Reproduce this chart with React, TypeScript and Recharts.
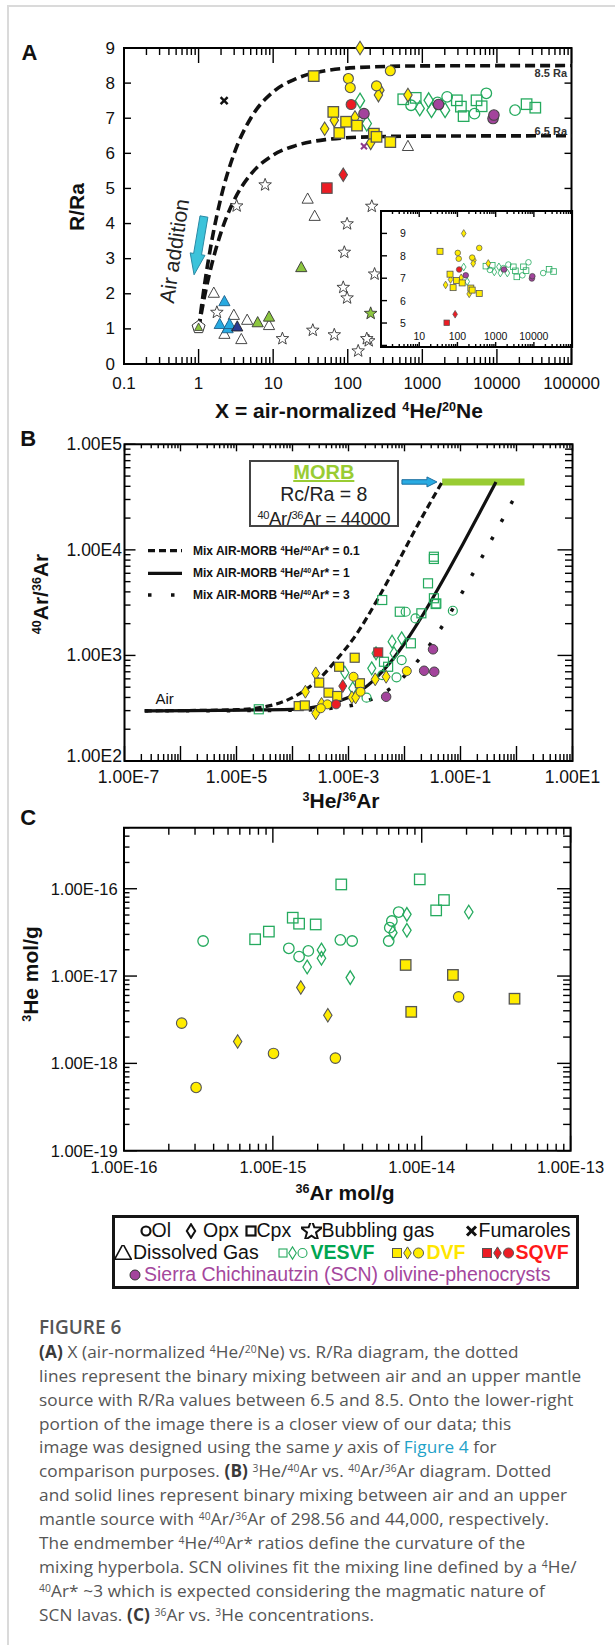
import React from "react";
import {
  ComposedChart,
  Scatter,
  Line,
  XAxis,
  YAxis,
  ReferenceArea,
  ReferenceLine,
} from "recharts";

type Pt = { x: number; y: number };
const pts = (rows: number[][]): Pt[] => rows.map(([x, y]) => ({ x, y }));

// ---------- (A) X = air-normalized 4He/20Ne vs R/Ra ----------
const aXMajors = [0.1, 1, 10, 100, 1000, 10000, 100000];
const aXLabels = ["0.1", "1", "10", "100", "1000", "10000", "100000"];
const aYMajors = [0, 1, 2, 3, 4, 5, 6, 7, 8, 9];
const aYLabels = ["0", "1", "2", "3", "4", "5", "6", "7", "8", "9"];
const insetXMajors = [1, 10, 100, 1000, 10000, 100000];
const insetXLabels = ["", "10", "100", "1000", "10000", ""];
const insetYMajors = [4, 5, 6, 7, 8, 9];
const insetYLabels = ["", "5", "6", "7", "8", "9"];

const aMix85 = pts([[1, 1], [1.2, 2.25], [1.5, 3.5], [2, 4.75], [3, 6.0], [5, 7.0], [10, 7.75], [20, 8.12], [50, 8.35], [200, 8.46], [1000, 8.49], [100000, 8.5]]);
const aMix65 = pts([[1, 1], [1.2, 1.92], [1.5, 2.83], [2, 3.75], [3, 4.67], [5, 5.4], [10, 5.95], [20, 6.22], [50, 6.39], [200, 6.47], [1000, 6.49], [100000, 6.5]]);

const aYellowSq = pts([[35, 8.2], [64, 7.18], [95, 6.9], [133, 6.79], [77, 6.58], [224, 6.56], [243, 6.47], [372, 6.32]]);
const aYellowCi = pts([[102, 8.13], [108, 7.87], [243, 7.92], [372, 8.35]]);
const aYellowDi = pts([[146, 9.0], [270, 7.8], [258, 7.66], [49, 6.7], [66, 6.94], [125, 7.02], [203, 6.3], [641, 7.66]]);
const aRedSq = pts([[52.5, 5.01]]);
const aRedDi = pts([[87, 5.39]]);
const aRedCi = pts([[111, 7.39]]);
const aPurple = pts([[165, 7.13], [1650, 7.39], [8870, 6.99], [9120, 7.09]]);
const aGreenSq = pts([[555, 7.54], [815, 7.58], [2900, 7.51], [3290, 7.33], [3575, 7.06], [5330, 7.51], [6240, 7.34], [25000, 7.4], [32700, 7.3]]);
const aGreenCi = pts([[706, 7.37], [2150, 7.61], [7210, 7.71], [5000, 7.13], [17500, 7.23], [1600, 7.45]]);
const aGreenDi = pts([[146, 7.5], [180, 6.85], [923, 7.28], [1216, 7.51], [1327, 7.23], [2020, 7.23]]);
const aStars = pts([[7.8, 5.1], [3.24, 4.5], [210, 4.49], [98, 3.99], [90, 3.18], [229, 2.56], [87, 2.18], [98, 1.88], [1.76, 1.47], [13.3, 0.72], [34, 0.96], [66, 0.83], [191, 0.66], [180, 0.72], [138, 0.37]]);
const aGreenStar = pts([[203, 1.44]]);
const aOpenTri = pts([[29, 4.7], [36, 4.21], [641, 6.2], [1.6, 2.02], [2.97, 1.39], [2.22, 0.85], [3.74, 0.7], [4.48, 1.25], [8.8, 1.1]]);
const aGreenTri = pts([[23.8, 2.75], [6.2, 1.18], [8.8, 1.34]]);
const aBlueTri = pts([[2.22, 1.78], [1.92, 1.13], [2.45, 1.01], [2.6, 1.13]]);
const aNavyTri = pts([[3.3, 1.06]]);
const aFumarole = pts([[2.2, 7.5]]);
const aPurpleX = pts([[165, 6.2]]);
const aAir = pts([[1, 1.05]]);
const aArrow = pts([[1.18, 4.2], [0.87, 2.54]]);

// ---------- (B) 3He/36Ar vs 40Ar/36Ar ----------
const bXMajors = [1e-7, 1e-6, 1e-5, 1e-4, 1e-3, 1e-2, 1e-1, 1, 10];
const bXLabels = ["1.00E-7", "", "1.00E-5", "", "1.00E-3", "", "1.00E-1", "", "1.00E1"];
const bYMajors = [100, 1000, 10000, 100000];
const bYLabels = ["1.00E2", "1.00E3", "1.00E4", "1.00E5"];

const bMix01 = pts([[2.3e-7, 298.6], [1e-5, 306], [5e-5, 345], [1.2e-4, 420], [3e-4, 600], [6e-4, 900], [1.4e-3, 1600], [3.2e-3, 3300], [7e-3, 7000], [1.6e-2, 16000], [4.7e-2, 44000]]);
const bMix1 = pts([[2.3e-7, 298.6], [1e-4, 309], [1e-3, 400], [3e-3, 600], [6e-3, 900], [1.1e-2, 1400], [2e-2, 2300], [3e-2, 3300], [6e-2, 6300], [0.11, 11300], [0.22, 22500], [0.43, 44000]]);
const bMix3 = pts([[2.3e-7, 298.6], [1e-4, 302], [1e-3, 332], [3e-3, 400], [6e-3, 500], [1e-2, 640], [2e-2, 980], [4e-2, 1650], [0.1, 3700], [0.2, 7100], [0.4, 13900], [0.88, 30000]]);
const bMorb = pts([[0.047, 44000], [1.39, 44000]]);
const bArrow = pts([[0.009, 44000], [0.038, 44000]]);

const bYellowSq = pts([[1.29e-3, 951], [6.8e-4, 781], [3e-4, 552], [4.4e-4, 444], [6.3e-4, 413], [1.6e-3, 545], [1.29e-4, 331], [1.66e-4, 336]]);
const bYellowCi = pts([[1.23e-3, 628], [4.2e-4, 344], [3.2e-4, 316], [1.64e-3, 453], [1.1e-2, 711]]);
const bYellowDi = pts([[2.6e-4, 676], [1.7e-4, 453], [3.3e-4, 347], [2.6e-4, 283], [1.15e-3, 401], [1.34e-3, 400], [3e-3, 594], [4.7e-3, 628]]);
const bRedSq = pts([[3.4e-3, 1070]]);
const bRedDi = pts([[7.9e-4, 513]]);
const bRedCi = pts([[6e-4, 344]]);
const bPurple = pts([[0.0323, 1143], [0.0224, 716], [0.034, 701], [4.7e-3, 406]]);
const bGreenSq = pts([[0.0335, 8610], [0.0335, 8200], [0.0263, 4820], [0.0335, 3480], [0.037, 3110], [0.004, 3350], [0.00824, 2594], [0.02, 2507], [0.036, 3070], [0.013, 1303], [0.0051, 781], [0.0043, 871], [2.5e-5, 309]]);
const bGreenCi = pts([[0.0105, 2594], [0.073, 2650], [0.0157, 2244], [0.0089, 904], [0.0072, 621], [0.0021, 398], [0.004, 652]]);
const bGreenDi = pts([[0.006, 1350], [0.0089, 1452], [0.0065, 1048], [0.0026, 755], [8.6e-4, 686], [1.19e-3, 488], [3.1e-3, 1048]]);

// ---------- (C) 36Ar vs 3He concentrations ----------
const cXMajors = [1e-16, 1e-15, 1e-14, 1e-13];
const cXLabels = ["1.00E-16", "1.00E-15", "1.00E-14", "1.00E-13"];
const cYMajors = [1e-19, 1e-18, 1e-17, 1e-16];
const cYLabels = ["1.00E-19", "1.00E-18", "1.00E-17", "1.00E-16"];

const cGreenCi = pts([[3.4e-16, 2.52e-17], [1.28e-15, 2.08e-17], [1.5e-15, 1.67e-17], [1.73e-15, 1.94e-17], [2.84e-15, 2.59e-17], [3.41e-15, 2.52e-17], [6.0e-15, 2.52e-17], [6.1e-15, 3.58e-17], [6.3e-15, 4.27e-17], [7.0e-15, 5.41e-17]]);
const cGreenSq = pts([[7.6e-16, 2.64e-17], [9.4e-16, 3.23e-17], [1.36e-15, 4.66e-17], [1.5e-15, 3.98e-17], [1.94e-15, 3.9e-17], [2.88e-15, 1.12e-16], [9.7e-15, 1.28e-16], [1.25e-14, 5.65e-17], [1.41e-14, 7.42e-17]]);
const cGreenDi = pts([[1.7e-15, 1.27e-17], [2.12e-15, 1.99e-17], [2.12e-15, 1.6e-17], [3.31e-15, 9.6e-18], [6.4e-15, 3.14e-17], [7.95e-15, 5.09e-17], [7.95e-15, 3.34e-17], [2.07e-14, 5.41e-17]]);
const cYellowDi = pts([[1.54e-15, 7.4e-18], [5.8e-16, 1.78e-18], [2.34e-15, 3.56e-18]]);
const cYellowSq = pts([[7.8e-15, 1.34e-17], [1.62e-14, 1.03e-17], [4.2e-14, 5.5e-18], [8.5e-15, 3.89e-18]]);
const cYellowCi = pts([[1.77e-14, 5.78e-18], [2.44e-16, 2.89e-18], [3.05e-16, 5.3e-19], [1.01e-15, 1.3e-18], [2.63e-15, 1.15e-18]]);

// ---------- styling ----------
const FONT = "Arial, 'Liberation Sans', Helvetica, sans-serif";
const YEL = "#ffec00";
const YEL_S = "#555";
const GRN = "#25aa5e";
const RED = "#ec1c24";
const PUR = "#a3449c";
const LGRN = "#8cc63f";
const BLUE = "#27aae1";
const NAVY = "#2b3990";

function logTicks(lo: number, hi: number): number[] {
  const out: number[] = [];
  const e0 = Math.floor(Math.log10(lo) + 1e-9);
  const e1 = Math.ceil(Math.log10(hi) - 1e-9);
  for (let e = e0; e <= e1; e++) {
    for (let m = 1; m <= 9; m++) {
      const v = +(m * Math.pow(10, e)).toPrecision(3);
      if (v >= lo * 0.999999 && v <= hi * 1.000001) out.push(v);
    }
  }
  return out;
}

type Kind = "circle" | "square" | "diamond" | "triangle" | "star" | "cross" | "air";

function Marker({ kind, cx, cy, s, fill, stroke, sw }: { kind: Kind; cx: number; cy: number; s: number; fill: string; stroke: string; sw: number }) {
  if (cx == null || cy == null || isNaN(cx) || isNaN(cy)) return null;
  const h = s / 2;
  const common = { fill, stroke, strokeWidth: sw };
  switch (kind) {
    case "circle":
      return <circle cx={cx} cy={cy} r={h} {...common} />;
    case "square":
      return <rect x={cx - h} y={cy - h} width={s} height={s} {...common} />;
    case "diamond": {
      const w = s * 0.42;
      const t = s * 0.68;
      return <polygon points={`${cx},${cy - t} ${cx + w},${cy} ${cx},${cy + t} ${cx - w},${cy}`} {...common} />;
    }
    case "triangle":
      return <polygon points={`${cx},${cy - s * 0.6} ${cx + s * 0.56},${cy + s * 0.42} ${cx - s * 0.56},${cy + s * 0.42}`} {...common} />;
    case "star": {
      const p: string[] = [];
      for (let i = 0; i < 10; i++) {
        const r = i % 2 === 0 ? s * 0.6 : s * 0.25;
        const a = -Math.PI / 2 + (i * Math.PI) / 5;
        p.push(`${cx + r * Math.cos(a)},${cy + r * Math.sin(a)}`);
      }
      return <polygon points={p.join(" ")} {...common} strokeLinejoin="miter" />;
    }
    case "cross":
      return (
        <g stroke={stroke} strokeWidth={sw} strokeLinecap="butt">
          <line x1={cx - h} y1={cy - h} x2={cx + h} y2={cy + h} />
          <line x1={cx - h} y1={cy + h} x2={cx + h} y2={cy - h} />
        </g>
      );
    case "air": {
      const p: string[] = [];
      for (let i = 0; i < 5; i++) {
        const a = -Math.PI / 2 + (i * 2 * Math.PI) / 5;
        p.push(`${cx + s * 0.62 * Math.cos(a)},${cy + s * 0.62 * Math.sin(a)}`);
      }
      return (
        <g>
          <polygon points={p.join(" ")} fill="#fff" stroke="#333" strokeWidth={1} />
          <polygon points={`${cx},${cy - s * 0.38} ${cx + s * 0.36},${cy + s * 0.3} ${cx - s * 0.36},${cy + s * 0.3}`} fill={fill} stroke="#333" strokeWidth={0.8} />
        </g>
      );
    }
  }
  return null;
}

const mk = (kind: Kind, s: number, fill: string, stroke: string, sw = 1) => (p: any) => (
  <Marker kind={kind} cx={p.cx} cy={p.cy} s={s} fill={fill} stroke={stroke} sw={sw} />
);

type Deco = {
  majors: number[];
  labels: string[];
  len: [number, number];
  opp: [number, number];
  span: number;
  off: number;
  font: number;
  anchor?: "start" | "middle" | "end";
  nudge?: number[];
};

const majorIndex = (v: number, majors: number[]) =>
  majors.findIndex((m) => (m === 0 ? v === 0 : Math.abs(v / m - 1) < 1e-6));

const bottomTick = (d: Deco) => (p: any) => {
  const { x, y } = p;
  const i = majorIndex(p.payload?.value, d.majors);
  const k = i >= 0 ? 0 : 1;
  const top = y - d.span;
  return (
    <g>
      {d.len[k] > 0 && <line x1={x} x2={x} y1={y} y2={y - d.len[k]} stroke="#000" strokeWidth={1.4} />}
      {d.opp[k] > 0 && <line x1={x} x2={x} y1={top} y2={top + d.opp[k]} stroke="#000" strokeWidth={1.4} />}
      {i >= 0 && d.labels[i] ? (
        <text x={x + ((d.nudge && d.nudge[i]) || 0)} y={y + d.off} textAnchor="middle" dominantBaseline="central" fontSize={d.font} fontFamily={FONT} fill="#111">
          {d.labels[i]}
        </text>
      ) : null}
    </g>
  );
};

const leftTick = (d: Deco) => (p: any) => {
  const { x, y } = p;
  const i = majorIndex(p.payload?.value, d.majors);
  const k = i >= 0 ? 0 : 1;
  const right = x + d.span;
  return (
    <g>
      {d.len[k] > 0 && <line x1={x} x2={x + d.len[k]} y1={y} y2={y} stroke="#000" strokeWidth={1.4} />}
      {d.opp[k] > 0 && <line x1={right} x2={right - d.opp[k]} y1={y} y2={y} stroke="#000" strokeWidth={1.4} />}
      {i >= 0 && d.labels[i] ? (
        <text x={x + d.off} y={y + ((d.nudge && d.nudge[i]) || 0)} textAnchor={d.anchor || "end"} dominantBaseline="central" fontSize={d.font} fontFamily={FONT} fill="#111">
          {d.labels[i]}
        </text>
      ) : null}
    </g>
  );
};

const arrowShape = (fill: string, stroke: string, shaft: number, head: number, headLen: number) => (p: any) => {
  const { x1, y1, x2, y2 } = p;
  const dx = x2 - x1;
  const dy = y2 - y1;
  const L = Math.hypot(dx, dy) || 1;
  const ux = dx / L;
  const uy = dy / L;
  const nx = -uy;
  const ny = ux;
  const bx = x2 - ux * headLen;
  const by = y2 - uy * headLen;
  const q = [
    [x1 + (nx * shaft) / 2, y1 + (ny * shaft) / 2],
    [bx + (nx * shaft) / 2, by + (ny * shaft) / 2],
    [bx + (nx * head) / 2, by + (ny * head) / 2],
    [x2, y2],
    [bx - (nx * head) / 2, by - (ny * head) / 2],
    [bx - (nx * shaft) / 2, by - (ny * shaft) / 2],
    [x1 - (nx * shaft) / 2, y1 - (ny * shaft) / 2],
  ];
  return <polygon points={q.map((c) => c.join(",")).join(" ")} fill={fill} stroke={stroke} strokeWidth={1} />;
};

const Sup = ({ children }: { children: React.ReactNode }) => (
  <span style={{ fontSize: "0.6em", verticalAlign: "0.55em", lineHeight: 0 }}>{children}</span>
);

const centered = (cx: number, cy: number, extra: React.CSSProperties = {}): React.CSSProperties => ({
  position: "absolute",
  left: cx,
  top: cy,
  transform: "translate(-50%, -50%)",
  whiteSpace: "nowrap",
  lineHeight: 1,
  ...extra,
});

const rotated = (cx: number, cy: number, deg: number, extra: React.CSSProperties = {}): React.CSSProperties => ({
  position: "absolute",
  left: cx,
  top: cy,
  transform: `translate(-50%, -50%) rotate(${deg}deg)`,
  whiteSpace: "nowrap",
  lineHeight: 1,
  ...extra,
});

const titleStyle: React.CSSProperties = { fontFamily: FONT, fontWeight: 700, fontSize: 21, color: "#111" };

const noAnim = { isAnimationActive: false as const, legendType: "none" as const };

// axes get 1px of room (an axis with zero size is not drawn); margins are 1px smaller to keep the plot box
function PanelA() {
  return (
    <ComposedChart width={615} height={396} margin={{ top: 48, right: 43.5, bottom: 31, left: 123 }}>
      <XAxis dataKey="x" type="number" scale="log" domain={[0.1, 100000]} ticks={logTicks(0.1, 100000)} interval={0}
        height={1} tickSize={0} tickMargin={0} axisLine={false} tickLine={false}
        tick={bottomTick({ majors: aXMajors, labels: aXLabels, len: [15, 7], opp: [15, 7], span: 316, off: 19, font: 17 })} />
      <YAxis dataKey="y" type="number" domain={[0, 9]} ticks={aYMajors} interval={0}
        width={1} tickSize={0} tickMargin={0} axisLine={false} tickLine={false}
        tick={leftTick({ majors: aYMajors, labels: aYLabels, len: [7, 7], opp: [7, 7], span: 447.5, off: -9, font: 17 })} />
      <ReferenceArea x1={0.1} x2={100000} y1={0} y2={9} fill="none" stroke="#000" strokeWidth={2} ifOverflow="visible" />
      <Line data={aMix85} dataKey="y" type="monotone" stroke="#111" strokeWidth={3.6} strokeDasharray="10 5" dot={false} activeDot={false} {...noAnim} />
      <Line data={aMix65} dataKey="y" type="monotone" stroke="#111" strokeWidth={3.6} strokeDasharray="10 5" dot={false} activeDot={false} {...noAnim} />
      <ReferenceLine segment={aArrow} shape={arrowShape("#3cc3da", "#2a8aa5", 8, 15, 21)} ifOverflow="visible" />
      <Scatter data={aStars} shape={mk("star", 11, "#fff", "#333", 0.9)} {...noAnim} />
      <Scatter data={aGreenStar} shape={mk("star", 11, LGRN, "#333", 0.9)} {...noAnim} />
      <Scatter data={aOpenTri} shape={mk("triangle", 10, "#fff", "#333", 0.9)} {...noAnim} />
      <Scatter data={aGreenTri} shape={mk("triangle", 10, LGRN, "#333", 0.9)} {...noAnim} />
      <Scatter data={aBlueTri} shape={mk("triangle", 10, BLUE, "#1d5f8a", 0.9)} {...noAnim} />
      <Scatter data={aNavyTri} shape={mk("triangle", 10, NAVY, "#222", 0.9)} {...noAnim} />
      <Scatter data={aAir} shape={mk("air", 11, LGRN, "#333", 1)} {...noAnim} />
      <Scatter data={aFumarole} shape={mk("cross", 7, "none", "#111", 2.4)} {...noAnim} />
      <Scatter data={aPurpleX} shape={mk("cross", 6, "none", "#8e3a8a", 2)} {...noAnim} />
      <Scatter data={aGreenSq} shape={mk("square", 10.5, "none", GRN, 1.3)} {...noAnim} />
      <Scatter data={aGreenCi} shape={mk("circle", 10.5, "none", GRN, 1.3)} {...noAnim} />
      <Scatter data={aGreenDi} shape={mk("diamond", 11, "none", GRN, 1.3)} {...noAnim} />
      <Scatter data={aYellowDi} shape={mk("diamond", 10, YEL, YEL_S, 1.1)} {...noAnim} />
      <Scatter data={aYellowSq} shape={mk("square", 10.5, YEL, YEL_S, 1.3)} {...noAnim} />
      <Scatter data={aYellowCi} shape={mk("circle", 10, YEL, YEL_S, 1.1)} {...noAnim} />
      <Scatter data={aRedSq} shape={mk("square", 10.5, RED, "#555", 1.1)} {...noAnim} />
      <Scatter data={aRedDi} shape={mk("diamond", 10, RED, "#555", 1.1)} {...noAnim} />
      <Scatter data={aRedCi} shape={mk("circle", 10, RED, "#555", 1.1)} {...noAnim} />
      <Scatter data={aPurple} shape={mk("circle", 10.5, PUR, "#444", 1.1)} {...noAnim} />
    </ComposedChart>
  );
}

function Inset() {
  const s = 5.6;
  return (
    <ComposedChart width={196} height={140} margin={{ top: 2, right: 2.9, bottom: 1, left: 1 }}>
      <XAxis dataKey="x" type="number" scale="log" domain={[1, 100000]} ticks={logTicks(1, 100000)} interval={0}
        height={1} tickSize={0} tickMargin={0} axisLine={false} tickLine={false}
        tick={bottomTick({ majors: insetXMajors, labels: insetXLabels, len: [5, 3], opp: [6, 3], span: 136, off: -11, font: 10.5 })} />
      <YAxis dataKey="y" type="number" domain={[3.93, 10]} ticks={insetYMajors} interval={0}
        width={1} tickSize={0} tickMargin={0} axisLine={false} tickLine={false}
        tick={leftTick({ majors: insetYMajors, labels: insetYLabels, len: [6, 6], opp: [0, 0], span: 191.1, off: 22, font: 10.5, anchor: "middle" })} />
      <ReferenceArea x1={1} x2={100000} y1={3.93} y2={10} fill="none" stroke="#000" strokeWidth={2} ifOverflow="visible" />
      <Scatter data={aGreenSq} shape={mk("square", s, "none", GRN, 0.8)} {...noAnim} />
      <Scatter data={aGreenCi} shape={mk("circle", s, "none", GRN, 0.8)} {...noAnim} />
      <Scatter data={aGreenDi} shape={mk("diamond", s, "none", GRN, 0.8)} {...noAnim} />
      <Scatter data={aYellowDi} shape={mk("diamond", s, YEL, YEL_S, 0.7)} {...noAnim} />
      <Scatter data={aYellowSq} shape={mk("square", s + 0.4, YEL, YEL_S, 0.8)} {...noAnim} />
      <Scatter data={aYellowCi} shape={mk("circle", s, YEL, YEL_S, 0.7)} {...noAnim} />
      <Scatter data={aRedSq} shape={mk("square", s, RED, "#555", 0.7)} {...noAnim} />
      <Scatter data={aRedDi} shape={mk("diamond", s, RED, "#555", 0.7)} {...noAnim} />
      <Scatter data={aRedCi} shape={mk("circle", s, RED, "#555", 0.7)} {...noAnim} />
      <Scatter data={aPurple} shape={mk("circle", s, PUR, "#444", 0.7)} {...noAnim} />
    </ComposedChart>
  );
}

function PanelB() {
  return (
    <ComposedChart width={615} height={416} margin={{ top: 48.3, right: 42.5, bottom: 50, left: 123.5 }}>
      <XAxis dataKey="x" type="number" scale="log" domain={[1e-7, 10]} ticks={logTicks(1e-7, 10)} interval={0}
        height={1} tickSize={0} tickMargin={0} axisLine={false} tickLine={false}
        tick={bottomTick({ majors: bXMajors, labels: bXLabels, len: [15, 7], opp: [7, 4], span: 316.7, off: 16, font: 17.5, nudge: [4, 0, 0, 0, 0, 0, 0, 0, 0] })} />
      <YAxis dataKey="y" type="number" scale="log" domain={[100, 100000]} ticks={logTicks(100, 100000)} interval={0}
        width={1} tickSize={0} tickMargin={0} axisLine={false} tickLine={false}
        tick={leftTick({ majors: bYMajors, labels: bYLabels, len: [11, 6], opp: [15, 7.5], span: 448, off: -2.5, font: 17.5, nudge: [-5, 0, 0, 0] })} />
      <ReferenceArea x1={1e-7} x2={10} y1={100} y2={100000} fill="none" stroke="#000" strokeWidth={2} ifOverflow="visible" />
      <ReferenceLine segment={bMorb} stroke="#99cc33" strokeWidth={7} ifOverflow="visible" />
      <ReferenceLine segment={bArrow} shape={arrowShape("#29abe2", "#1b6fa0", 4.5, 10, 10)} ifOverflow="visible" />
      <Line data={bMix01} dataKey="y" type="monotone" stroke="#111" strokeWidth={3.2} strokeDasharray="7 4" dot={false} activeDot={false} {...noAnim} />
      <Line data={bMix1} dataKey="y" type="monotone" stroke="#111" strokeWidth={3.2} dot={false} activeDot={false} {...noAnim} />
      <Line data={bMix3} dataKey="y" type="monotone" stroke="#111" strokeWidth={3.5} strokeDasharray="3.5 17" dot={false} activeDot={false} {...noAnim} />
      <Scatter data={bGreenSq} shape={mk("square", 9, "none", GRN, 1.2)} {...noAnim} />
      <Scatter data={bGreenCi} shape={mk("circle", 9, "none", GRN, 1.2)} {...noAnim} />
      <Scatter data={bGreenDi} shape={mk("diamond", 9.5, "none", GRN, 1.2)} {...noAnim} />
      <Scatter data={bYellowDi} shape={mk("diamond", 9.5, YEL, YEL_S, 1)} {...noAnim} />
      <Scatter data={bYellowSq} shape={mk("square", 9, YEL, YEL_S, 1.2)} {...noAnim} />
      <Scatter data={bYellowCi} shape={mk("circle", 9, YEL, YEL_S, 1)} {...noAnim} />
      <Scatter data={bRedSq} shape={mk("square", 9, RED, "#555", 1)} {...noAnim} />
      <Scatter data={bRedDi} shape={mk("diamond", 9.5, RED, "#555", 1)} {...noAnim} />
      <Scatter data={bRedCi} shape={mk("circle", 9, RED, "#555", 1)} {...noAnim} />
      <Scatter data={bPurple} shape={mk("circle", 9.5, PUR, "#444", 1)} {...noAnim} />
    </ComposedChart>
  );
}

function PanelC() {
  return (
    <ComposedChart width={615} height={370} margin={{ top: 15.7, right: 44.4, bottom: 30.3, left: 123 }}>
      <XAxis dataKey="x" type="number" scale="log" domain={[1e-16, 1e-13]} ticks={logTicks(1e-16, 1e-13)} interval={0}
        height={1} tickSize={0} tickMargin={0} axisLine={false} tickLine={false}
        tick={bottomTick({ majors: cXMajors, labels: cXLabels, len: [15, 7], opp: [15, 7], span: 323, off: 16, font: 16.5 })} />
      <YAxis dataKey="y" type="number" scale="log" domain={[1e-19, 5e-16]} ticks={logTicks(1e-19, 5e-16)} interval={0}
        width={1} tickSize={0} tickMargin={0} axisLine={false} tickLine={false}
        tick={leftTick({ majors: cYMajors, labels: cYLabels, len: [13, 5.5], opp: [13.5, 7.5], span: 446.6, off: -6.4, font: 16.5 })} />
      <ReferenceArea x1={1e-16} x2={1e-13} y1={1e-19} y2={5e-16} fill="none" stroke="#000" strokeWidth={2} ifOverflow="visible" />
      <Scatter data={cGreenSq} shape={mk("square", 10.5, "none", GRN, 1.3)} {...noAnim} />
      <Scatter data={cGreenCi} shape={mk("circle", 10.5, "none", GRN, 1.3)} {...noAnim} />
      <Scatter data={cGreenDi} shape={mk("diamond", 10, "none", GRN, 1.3)} {...noAnim} />
      <Scatter data={cYellowDi} shape={mk("diamond", 10, YEL, YEL_S, 1.1)} {...noAnim} />
      <Scatter data={cYellowSq} shape={mk("square", 10.5, YEL, YEL_S, 1.3)} {...noAnim} />
      <Scatter data={cYellowCi} shape={mk("circle", 10.5, YEL, YEL_S, 1.1)} {...noAnim} />
    </ComposedChart>
  );
}

const Icon = ({ kind, fill, stroke, sw = 1.2, s = 9, w = 12 }: { kind: Kind; fill: string; stroke: string; sw?: number; s?: number; w?: number }) => (
  <svg width={w} height={16} style={{ display: "block" }}>
    <Marker kind={kind} cx={w / 2} cy={8} s={s} fill={fill} stroke={stroke} sw={sw} />
  </svg>
);

const at = (left: number, cy: number, extra: React.CSSProperties = {}): React.CSSProperties => ({
  position: "absolute",
  left,
  top: cy,
  transform: "translateY(-50%)",
  whiteSpace: "nowrap",
  lineHeight: 1,
  ...extra,
});

function FigureLegend() {
  const L = 111.5;
  const T = 1215;
  const r1 = 1231.7 - T;
  const r2 = 1253.3 - T;
  const r3 = 1275 - T;
  const txt: React.CSSProperties = { fontFamily: FONT, fontSize: 19.5, color: "#111" };
  const x = (v: number) => v - L - 3.5;
  return (
    <div style={{ position: "absolute", left: L, top: T, width: 467, height: 74.3, border: "3.5px solid #151515", boxSizing: "border-box", background: "#fff" }}>
      <div style={at(x(140), r1 - 3.5)}><Icon kind="circle" fill="none" stroke="#111" sw={2.2} s={9} /></div>
      <div style={at(x(152), r1 - 3.5, txt)}>Ol</div>
      <div style={at(x(185.5), r1 - 3.5)}><Icon kind="diamond" fill="none" stroke="#111" sw={2} s={10} /></div>
      <div style={at(x(203.5), r1 - 3.5, txt)}>Opx</div>
      <div style={at(x(245.5), r1 - 3.5)}><Icon kind="square" fill="none" stroke="#111" sw={2.2} s={9} /></div>
      <div style={at(x(257), r1 - 3.5, txt)}>Cpx</div>
      <div style={at(x(301), r1 - 3.5)}><Icon kind="star" fill="none" stroke="#111" sw={2} s={19} w={21} /></div>
      <div style={at(x(322), r1 - 3.5, txt)}>Bubbling gas</div>
      <div style={at(x(465), r1 - 3.5)}><Icon kind="cross" fill="none" stroke="#111" sw={3} s={9} w={13} /></div>
      <div style={at(x(479), r1 - 3.5, txt)}>Fumaroles</div>

      <div style={at(x(114.5), r2 - 3.5)}><Icon kind="triangle" fill="none" stroke="#111" sw={1.6} s={15} w={18} /></div>
      <div style={at(x(133.5), r2 - 3.5, txt)}>Dissolved Gas</div>
      <div style={at(x(278), r2 - 3.5)}>
        <svg width={30} height={16} style={{ display: "block" }}>
          <Marker kind="square" cx={5} cy={8} s={8} fill="none" stroke={GRN} sw={1.1} />
          <Marker kind="diamond" cx={14.5} cy={8} s={9} fill="none" stroke={GRN} sw={1.1} />
          <Marker kind="circle" cx={24.5} cy={8} s={9} fill="none" stroke={GRN} sw={1.1} />
        </svg>
      </div>
      <div style={at(x(311), r2 - 3.5, { ...txt, color: "#00a650", fontWeight: 700 })}>VESVF</div>
      <div style={at(x(391), r2 - 3.5)}>
        <svg width={36} height={16} style={{ display: "block" }}>
          <Marker kind="square" cx={6} cy={8} s={9} fill={YEL} stroke={YEL_S} sw={1} />
          <Marker kind="diamond" cx={16.5} cy={8} s={9} fill={YEL} stroke={YEL_S} sw={1} />
          <Marker kind="circle" cx={27.5} cy={8} s={10} fill={YEL} stroke={YEL_S} sw={1} />
        </svg>
      </div>
      <div style={at(x(427), r2 - 3.5, { ...txt, color: "#ffe600", fontWeight: 700 })}>DVF</div>
      <div style={at(x(481), r2 - 3.5)}>
        <svg width={36} height={16} style={{ display: "block" }}>
          <Marker kind="square" cx={6} cy={8} s={9} fill={RED} stroke="#555" sw={1} />
          <Marker kind="diamond" cx={16.5} cy={8} s={9} fill={RED} stroke="#555" sw={1} />
          <Marker kind="circle" cx={27.5} cy={8} s={10} fill={RED} stroke="#555" sw={1} />
        </svg>
      </div>
      <div style={at(x(516), r2 - 3.5, { ...txt, color: "#ff1a1a", fontWeight: 700 })}>SQVF</div>

      <div style={at(x(129), r3 - 3.5)}><Icon kind="circle" fill={PUR} stroke="#333" sw={1} s={10} /></div>
      <div style={at(x(144.5), r3 - 3.5, { ...txt, color: "#a4479d" })}>Sierra Chichinautzin (SCN) olivine-phenocrysts</div>
    </div>
  );
}

const capColor = "#555";
const B = ({ children }: { children: React.ReactNode }) => <span style={{ fontWeight: 700, color: "#3a3a3a" }}>{children}</span>;
const captionLines: React.ReactNode[] = [
  <><B>(A)</B> X (air-normalized <Sup>4</Sup>He/<Sup>20</Sup>Ne) vs. R/Ra diagram, the dotted</>,
  <>lines represent the binary mixing between air and an upper mantle</>,
  <>source with R/Ra values between 6.5 and 8.5. Onto the lower-right</>,
  <>portion of the image there is a closer view of our data; this</>,
  <>image was designed using the same <i>y</i> axis of <span style={{ color: "#1fa2c8" }}>Figure 4</span> for</>,
  <>comparison purposes. <B>(B)</B> <Sup>3</Sup>He/<Sup>40</Sup>Ar vs. <Sup>40</Sup>Ar/<Sup>36</Sup>Ar diagram. Dotted</>,
  <>and solid lines represent binary mixing between air and an upper</>,
  <>mantle source with <Sup>40</Sup>Ar/<Sup>36</Sup>Ar of 298.56 and 44,000, respectively.</>,
  <>The endmember <Sup>4</Sup>He/<Sup>40</Sup>Ar* ratios define the curvature of the</>,
  <>mixing hyperbola. SCN olivines fit the mixing line defined by a <Sup>4</Sup>He/</>,
  <><Sup>40</Sup>Ar* ~3 which is expected considering the magmatic nature of</>,
  <>SCN lavas. <B>(C)</B> <Sup>36</Sup>Ar vs. <Sup>3</Sup>He concentrations.</>,
];

export default function App() {
  const legendText: React.CSSProperties = { fontFamily: FONT, fontWeight: 700, fontSize: 12, color: "#111" };
  return (
    <div style={{ position: "absolute", left: 0, top: 0, width: 615, height: 1645, background: "#fff", overflow: "hidden", fontFamily: FONT }}>
      <div style={{ position: "absolute", left: 7, top: 5, width: 700, height: 1700, borderLeft: "2px solid #dadada", borderTop: "2px solid #dadada" }} />

      {/* Panel A */}
      <div style={{ position: "absolute", left: 0, top: 0 }}><PanelA /></div>
      <div style={{ position: "absolute", left: 380.4, top: 210.7, width: 191.1, height: 136, background: "#fff" }} />
      <div style={{ position: "absolute", left: 379.4, top: 208.7 }}><Inset /></div>
      <div style={centered(29.4, 53.3, { ...titleStyle, fontSize: 22 })}>A</div>
      <div style={centered(349, 410, titleStyle)}>X = air-normalized <Sup>4</Sup>He/<Sup>20</Sup>Ne</div>
      <div style={rotated(75.7, 207, -90, titleStyle)}>R/Ra</div>
      <div style={centered(550.8, 73.3, { fontFamily: FONT, fontSize: 11, fontWeight: 700, color: "#333" })}>8.5 Ra</div>
      <div style={centered(550.8, 130.7, { fontFamily: FONT, fontSize: 11, fontWeight: 700, color: "#333" })}>6.5 Ra</div>
      <div style={rotated(174.4, 251.3, -81.6, { fontFamily: FONT, fontSize: 21, color: "#222" })}>Air addition</div>

      {/* Panel B */}
      <div style={{ position: "absolute", left: 0, top: 396 }}><PanelB /></div>
      <div style={centered(28.3, 439, { ...titleStyle, fontSize: 22 })}>B</div>
      <div style={rotated(40, 594, -90, titleStyle)}><Sup>40</Sup>Ar/<Sup>36</Sup>Ar</div>
      <div style={centered(341, 800, titleStyle)}><Sup>3</Sup>He/<Sup>36</Sup>Ar</div>
      <div style={{ position: "absolute", left: 249, top: 460, width: 149.7, height: 66.7, border: "2px solid #444", boxSizing: "border-box", background: "#fff" }}>
        <div style={centered(72.8, 10, { fontFamily: FONT, fontWeight: 700, fontSize: 20, color: "#99cc33", textDecoration: "underline" })}>MORB</div>
        <div style={centered(72.8, 33.3, { fontFamily: FONT, fontSize: 19.5, color: "#222" })}>Rc/Ra = 8</div>
        <div style={centered(72.8, 56.7, { fontFamily: FONT, fontSize: 18.5, color: "#222", letterSpacing: -0.4 })}><Sup>40</Sup>Ar/<Sup>36</Sup>Ar = 44000</div>
      </div>
      <svg style={{ position: "absolute", left: 140, top: 540 }} width={50} height={70}>
        <line x1={8} x2={42} y1={10.7} y2={10.7} stroke="#111" strokeWidth={3.2} strokeDasharray="7 4" />
        <line x1={8} x2={42} y1={33.3} y2={33.3} stroke="#111" strokeWidth={3.2} />
        <line x1={8} x2={42} y1={55} y2={55} stroke="#111" strokeWidth={3.5} strokeDasharray="3.5 19.5" />
      </svg>
      <div style={at(193, 550.7, legendText)}>Mix AIR-MORB <Sup>4</Sup>He/<Sup>40</Sup>Ar* = 0.1</div>
      <div style={at(193, 573.3, legendText)}>Mix AIR-MORB <Sup>4</Sup>He/<Sup>40</Sup>Ar* = 1</div>
      <div style={at(193, 595, legendText)}>Mix AIR-MORB <Sup>4</Sup>He/<Sup>40</Sup>Ar* = 3</div>
      <div style={centered(164.7, 698.3, { fontFamily: FONT, fontSize: 15, color: "#111" })}>Air</div>

      {/* Panel C */}
      <div style={{ position: "absolute", left: 0, top: 812 }}><PanelC /></div>
      <div style={centered(28.3, 818.3, { ...titleStyle, fontSize: 22 })}>C</div>
      <div style={rotated(30, 974, -90, titleStyle)}><Sup>3</Sup>He mol/g</div>
      <div style={centered(345, 1192, titleStyle)}><Sup>36</Sup>Ar mol/g</div>

      <FigureLegend />

      {/* Caption */}
      <div style={{ position: "absolute", left: 39, top: 1326.7, transform: "translateY(-50%)", fontFamily: "'Open Sans', sans-serif", fontWeight: 600, fontSize: 19, color: capColor, lineHeight: 1 }}>FIGURE 6</div>
      {captionLines.map((ln, i) => (
        <div key={i} style={{ position: "absolute", left: 39, top: 1351.7 + i * 23.94, transform: "translateY(-50%)", fontFamily: "'Open Sans', sans-serif", fontSize: 17.2, color: capColor, lineHeight: 1, whiteSpace: "nowrap", letterSpacing: 0.1 }}>
          {ln}
        </div>
      ))}
    </div>
  );
}
